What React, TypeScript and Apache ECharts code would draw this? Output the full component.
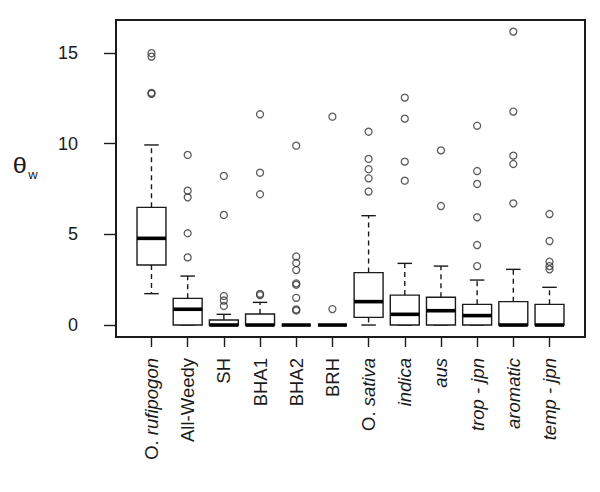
import React, { useEffect, useRef } from "react";
import * as echarts from "echarts";

const categories = ["O. rufipogon", "All-Weedy", "SH", "BHA1", "BHA2", "BRH", "O. sativa", "indica", "aus", "trop - jpn", "aromatic", "temp - jpn"];
const lowerWhisker = [1.73, 0, 0, 0, 0, 0, 0, 0, 0, 0, 0, 0];
const q1 = [3.31, 0, 0, 0, 0, 0, 0.42, 0, 0, 0, 0, 0];
const median = [4.78, 0.87, 0, 0, 0, 0, 1.29, 0.59, 0.79, 0.52, 0, 0];
const q3 = [6.49, 1.47, 0.28, 0.61, 0, 0, 2.89, 1.65, 1.53, 1.14, 1.29, 1.14];
const upperWhisker = [9.93, 2.7, 0.59, 1.25, 0, 0, 6.03, 3.4, 3.25, 2.48, 3.07, 2.08];
const outliers = [
  [14.99, 14.8, 12.8, 12.75],
  [9.38, 7.41, 7.04, 5.06, 3.73],
  [8.22, 6.07, 1.6, 1.35, 1.05],
  [11.62, 8.4, 7.21, 1.72, 1.65],
  [9.89, 3.78, 3.42, 3.03, 2.3, 2.22, 1.5, 0.86, 0.8],
  [11.49, 0.88],
  [10.66, 9.16, 8.59, 8.09, 7.36],
  [12.54, 11.38, 9.01, 7.96],
  [9.63, 6.56],
  [10.99, 8.49, 7.78, 5.94, 4.41, 3.25],
  [16.18, 11.77, 9.34, 8.88, 6.71],
  [6.12, 4.63, 3.49, 3.25, 3.07],
];
const yTicks = [0, 5, 10, 15];
const yMin = -0.66;
const yMax = 16.82;
const yLabel = "θ";
const yLabelSub = "w";

const FONT = "'Liberation Sans', Arial, Helvetica, sans-serif";
const INK = "#1a1a1a";

function labelRich(v: string): string {
  if (v.startsWith("O. ")) return `{n|O. }{i|${v.slice(3)}}`;
  const italic = ["indica", "aus", "trop - jpn", "aromatic", "temp - jpn"];
  return italic.includes(v) ? `{i|${v}}` : `{n|${v}}`;
}

export default function App() {
  const ref = useRef<HTMLDivElement>(null);
  useEffect(() => {
    if (!ref.current) return;
    document.body.style.margin = "0";
    const chart = echarts.init(ref.current, undefined, { renderer: "svg" });
    const boxData = categories.map((_, i) => [i, lowerWhisker[i], q1[i], median[i], q3[i], upperWhisker[i]]);
    const outData: number[][] = [];
    outliers.forEach((arr, i) => arr.forEach((v) => outData.push([i, v])));
    const lineStyle = { stroke: INK, lineWidth: 1.4 };
    chart.setOption({
      animation: false,
      backgroundColor: "#fff",
      grid: { left: 133.4, right: 32.4, top: 20, bottom: 155 },
      xAxis: {
        type: "category",
        data: categories,
        boundaryGap: true,
        axisLine: { show: false, onZero: false },
        axisTick: { show: true, alignWithLabel: true, inside: false, length: 10, lineStyle: { color: INK, width: 1.4 } },
        axisLabel: {
          rotate: 90,
          margin: 21,
          interval: 0,
          fontSize: 18.5,
          color: INK,
          fontFamily: FONT,
          formatter: (v: string) => labelRich(v),
          rich: {
            n: { fontSize: 18.5, fontFamily: FONT, color: INK, fontStyle: "normal" },
            i: { fontSize: 18.5, fontFamily: FONT, color: INK, fontStyle: "italic" },
          },
        },
        splitLine: { show: false },
      },
      yAxis: {
        type: "value",
        min: yMin,
        max: yMax,
        offset: 17.4,
        axisLine: { show: false },
        axisTick: { show: true, inside: false, length: 12, customValues: yTicks, lineStyle: { color: INK, width: 1.4 } },
        axisLabel: { margin: 38, fontSize: 18, color: INK, fontFamily: FONT, customValues: yTicks },
        splitLine: { show: false },
      },
      graphic: [
        { type: "rect", shape: { x: 116, y: 20, width: 469, height: 317 }, style: { fill: "none", stroke: INK, lineWidth: 2 }, z: 100 },
        { type: "text", x: 12.7, y: 165.5, scaleX: 1.15, style: { text: yLabel, fontSize: 22, fontFamily: FONT, fill: INK, verticalAlign: "middle", align: "left" } },
        { type: "text", x: 28.3, y: 174.7, style: { text: yLabelSub, fontSize: 13, fontFamily: FONT, fill: INK, verticalAlign: "middle", align: "left" } },
      ],
      series: [
        {
          type: "custom",
          data: boxData,
          encode: { x: 0, y: [1, 2, 3, 4, 5] },
          renderItem: (params: any, api: any) => {
            const idx = api.value(0);
            const lo = api.value(1), a = api.value(2), m = api.value(3), b = api.value(4), hi = api.value(5);
            const band = api.size([1, 0])[0];
            const bw = band * 0.8;
            const sw = bw * 0.5;
            const cx = api.coord([idx, m])[0];
            const yLo = api.coord([idx, lo])[1];
            const yQ1 = api.coord([idx, a])[1];
            const yM = api.coord([idx, m])[1];
            const yQ3 = api.coord([idx, b])[1];
            const yHi = api.coord([idx, hi])[1];
            const ch: any[] = [];
            if (hi > b) ch.push({ type: "line", shape: { x1: cx, y1: yQ3, x2: cx, y2: yHi }, style: { ...lineStyle, lineDash: [5, 4] } });
            if (lo < a) ch.push({ type: "line", shape: { x1: cx, y1: yQ1, x2: cx, y2: yLo }, style: { ...lineStyle, lineDash: [5, 4] } });
            ch.push({ type: "line", shape: { x1: cx - sw / 2, y1: yHi, x2: cx + sw / 2, y2: yHi }, style: lineStyle });
            ch.push({ type: "line", shape: { x1: cx - sw / 2, y1: yLo, x2: cx + sw / 2, y2: yLo }, style: lineStyle });
            ch.push({ type: "rect", shape: { x: cx - bw / 2, y: yQ3, width: bw, height: yQ1 - yQ3 }, style: { fill: "#fff", stroke: INK, lineWidth: 1.4 } });
            ch.push({ type: "line", shape: { x1: cx - bw / 2, y1: yM, x2: cx + bw / 2, y2: yM }, style: { stroke: "#000", lineWidth: 3.6 } });
            return { type: "group", children: ch };
          },
          z: 2,
        },
        {
          type: "scatter",
          data: outData,
          symbol: "circle",
          symbolSize: 7,
          itemStyle: { color: "rgba(0,0,0,0)", borderColor: "#333", borderWidth: 1.3 },
          z: 3,
        },
      ],
    });
    return () => chart.dispose();
  }, []);
  return <div ref={ref} style={{ width: 600, height: 492 }} />;
}
